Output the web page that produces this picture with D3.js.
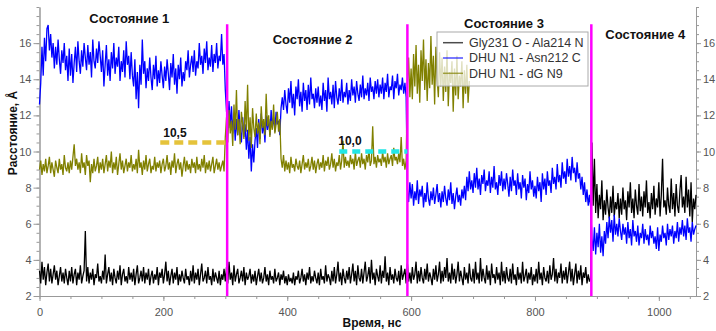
<!DOCTYPE html>
<html>
<head>
<meta charset="utf-8">
<script src="https://cdn.jsdelivr.net/npm/d3@7"></script>
<style>
  body { margin: 0; background: #fff; }
  svg text { font-family: "Liberation Sans", Arial, sans-serif; }
</style>
</head>
<body>
<svg id="chart" width="716" height="331"></svg>
<script>
// [DATA] one sample every STEP ns, starting at 0 ns
const STEP = 2;

// Gly231 O - Ala214 N (black)
const glyAla = [
  3.4,2.7,3.9,2.9,3.6,2.6,3.3,3.8,2.8,3.5,2.7,3.2,3.7,2.9,3.4,2.6,3.1,3.6,2.8,3.3,2.7,3.5,3.0,2.6,3.4,
  2.8,3.6,2.7,3.2,3.5,2.6,3.3,2.9,3.7,2.7,3.1,3.4,5.6,2.8,3.6,2.7,3.3,2.9,3.5,2.6,3.2,3.0,3.8,2.8,3.1,
  2.7,3.4,2.9,4.3,2.7,3.2,3.6,2.8,3.3,2.6,3.5,3.0,2.7,3.4,2.9,3.7,2.6,3.2,3.5,2.8,3.1,2.7,3.6,2.9,3.3,
  2.8,3.5,2.6,3.2,3.7,2.7,3.0,3.4,2.8,3.6,2.7,3.3,2.9,3.5,2.6,3.1,3.4,2.7,3.2,2.9,3.6,2.6,3.3,3.0,3.5,
  2.7,3.2,3.9,2.8,3.4,2.6,3.1,3.5,2.7,3.3,2.9,3.6,2.6,3.2,2.8,3.4,3.0,2.7,3.5,2.9,3.1,2.6,3.4,2.8,3.7,
  2.7,3.3,2.9,3.5,2.6,3.2,3.8,2.8,3.0,3.4,2.7,3.6,2.9,3.1,2.6,3.5,2.8,3.3,3.0,2.7,3.4,2.6,3.2,2.9,3.5,
  2.8,3.6,2.7,3.9,2.9,3.3,2.6,3.7,2.8,3.2,3.5,2.7,3.0,3.4,2.8,3.6,2.6,3.3,2.9,3.1,3.5,2.7,3.2,2.8,3.4,
  2.6,3.1,3.5,2.8,3.3,2.7,3.0,3.6,2.8,3.2,2.6,3.4,2.9,3.1,2.7,3.5,2.8,3.0,3.3,2.6,3.2,2.9,3.4,2.7,3.1,
  2.6,3.2,2.8,3.0,2.7,3.3,2.6,3.1,2.9,3.4,2.7,3.0,3.5,2.8,3.2,2.6,3.3,2.9,3.6,2.7,3.1,2.8,3.4,3.0,2.7,
  3.3,2.6,3.5,2.9,3.1,2.7,3.7,2.8,3.2,3.0,2.6,3.4,2.8,3.6,2.7,3.2,3.9,2.8,3.3,2.6,3.5,3.0,2.7,3.4,2.9,
  3.6,2.7,3.2,3.8,2.8,3.4,2.6,3.7,3.0,2.8,3.5,2.7,3.3,3.9,2.8,3.1,3.6,2.7,4.0,2.9,3.3,2.6,3.5,3.1,2.8,
  3.7,2.7,3.4,3.0,4.2,2.8,3.3,2.6,3.6,2.9,3.2,2.7,3.5,3.0,2.8,3.4,2.6,3.7,2.9,3.2,3.5,2.7,3.8,2.8,3.3,
  2.7,3.6,2.9,3.2,3.9,2.7,3.4,2.8,3.6,3.0,2.7,3.5,2.9,3.8,2.8,3.3,3.0,2.6,3.5,2.9,3.7,2.8,3.2,3.9,2.7,
  3.4,2.8,3.6,3.0,4.1,2.8,3.3,2.7,3.8,2.9,3.5,2.7,3.2,3.9,2.8,3.4,3.0,2.6,3.6,2.9,3.3,2.7,3.8,3.0,2.8,
  3.5,2.7,3.9,2.9,3.3,2.7,4.1,2.8,3.5,3.0,2.7,3.7,2.9,3.4,2.6,3.8,3.0,3.2,2.7,3.6,2.9,3.3,2.6,3.9,2.8,
  3.4,2.7,3.6,3.0,2.8,3.5,2.7,3.8,2.9,3.2,2.6,3.6,2.9,3.3,2.7,3.9,2.8,3.1,3.5,2.7,3.3,2.9,3.6,2.6,3.2,
  2.8,3.5,2.7,3.9,2.9,3.3,2.6,3.6,3.0,2.8,3.4,2.7,3.7,2.9,3.2,4.1,2.8,3.5,2.7,3.3,3.0,3.8,2.7,3.4,2.9,
  3.6,2.7,3.3,3.9,2.8,3.5,2.6,3.2,3.8,2.7,3.4,2.9,3.7,2.6,3.3,3.0,3.6,2.7,3.2,2.8,
  3.0,10.5,7.0,9.6,6.6,8.2,6.3,7.6,6.8,8.4,6.2,7.3,6.5,7.9,6.9,6.3,7.5,6.6,8.1,6.4,7.2,6.8,7.7,6.3,7.4,
  6.5,8.0,6.8,7.3,6.2,7.8,6.9,8.3,6.6,7.4,6.3,7.9,7.0,6.5,8.2,6.7,7.5,6.4,7.8,6.9,8.4,6.6,7.2,6.3,7.7,
  6.8,8.1,6.5,7.4,6.9,8.3,6.4,7.6,9.6,6.9,7.3,6.5,8.0,7.0,6.6,8.5,6.8,7.7,6.4,8.2,7.0,6.6,7.8,8.7,6.9,
  7.5,6.6,8.6,6.9,7.9,6.4,8.3,6.1,7.4,6.8,7.6
];

// DHU N1 - Asn212 C (blue)
const dhuAsn = [
  12.6,13.8,15.8,14.2,16.3,15.0,16.8,17.0,15.6,16.5,15.2,16.0,14.6,15.8,14.8,16.2,15.1,14.3,15.6,14.9,16.0,14.5,15.3,13.9,15.7,
  14.2,15.4,13.8,14.9,15.8,14.4,16.1,15.0,14.3,15.6,14.7,16.0,15.2,14.5,15.9,14.8,15.5,14.1,16.2,15.0,14.6,15.7,14.9,16.1,15.3,
  14.4,15.6,13.6,14.8,15.9,14.2,15.1,13.9,15.5,14.6,16.0,14.3,15.2,14.7,15.8,13.9,15.0,14.4,15.6,14.1,16.1,14.8,15.3,14.0,15.5,
  14.2,13.6,15.1,12.9,14.4,12.4,14.8,13.7,16.2,14.3,15.0,13.5,14.6,13.9,15.2,14.1,13.4,14.8,14.0,15.3,13.6,14.5,13.8,15.0,14.2,
  13.5,14.7,13.9,15.1,14.3,13.4,14.9,14.1,15.4,13.7,14.6,13.2,14.8,14.0,15.2,13.6,14.4,13.9,15.0,14.5,15.6,14.1,14.8,15.3,14.4,
  15.6,14.2,15.0,14.6,16.0,14.8,15.3,14.3,15.7,14.9,16.1,14.5,15.2,14.7,15.9,14.4,15.4,14.9,16.0,14.6,15.3,15.0,16.5,14.8,15.4,
  13.4,12.2,11.5,12.8,11.3,12.5,11.0,12.1,10.6,11.8,10.9,12.3,11.2,10.5,11.9,10.8,11.5,10.1,11.2,9.6,10.8,8.9,10.4,9.4,10.6,
  11.3,10.2,11.8,10.7,12.1,11.0,11.6,10.5,12.0,11.2,11.8,10.9,12.3,11.4,11.9,11.1,12.2,11.5,11.7,10.9,12.4,13.0,12.3,13.4,12.6,
  12.1,13.5,12.7,13.9,12.4,13.2,12.0,13.6,12.9,14.0,12.5,13.3,12.2,13.8,12.8,13.4,12.3,13.7,12.6,14.1,12.9,13.2,12.4,13.5,12.7,
  13.6,12.5,13.1,12.3,13.8,12.8,13.4,12.2,14.1,12.9,13.3,12.6,13.7,12.4,13.9,13.0,12.6,13.5,12.8,14.0,12.7,13.3,13.0,13.8,12.6,
  13.4,12.8,14.0,13.1,13.6,12.7,13.9,13.2,12.8,13.7,13.0,14.2,12.9,13.5,13.1,13.8,12.8,14.1,13.3,13.6,12.9,13.9,13.2,14.0,13.0,
  13.7,13.2,14.1,12.9,13.8,13.3,14.3,13.0,13.6,13.4,14.2,12.9,13.9,13.5,14.3,13.1,13.7,13.4,14.1,13.2,13.8,13.0,7.9,7.2,8.3,
  7.4,8.2,7.0,7.8,7.3,8.4,7.1,7.9,7.5,8.1,6.9,7.7,7.2,8.3,7.4,7.0,7.8,7.3,8.0,7.1,7.6,8.2,7.2,7.7,6.9,
  7.8,7.2,8.1,7.4,7.0,7.9,7.3,8.3,7.1,7.7,6.8,7.5,8.0,7.2,7.6,7.0,7.9,7.4,8.1,7.3,8.6,7.8,8.9,7.9,8.4,
  7.7,8.8,8.0,9.1,7.9,8.5,7.6,8.7,8.2,9.0,7.8,8.4,8.1,8.9,7.7,8.6,8.0,9.2,7.9,8.3,7.6,8.7,8.1,8.9,7.8,
  8.5,7.9,8.8,8.2,7.5,8.6,7.8,9.0,8.1,8.4,7.6,8.8,7.9,8.3,7.4,8.7,8.0,8.5,7.3,8.2,7.7,8.9,7.9,8.4,7.5,
  8.1,7.4,8.6,7.8,8.3,7.2,8.8,7.9,8.5,7.6,8.9,8.1,8.4,7.7,9.1,8.2,8.6,7.9,9.3,8.3,8.7,8.0,9.4,8.5,8.9,
  8.2,9.6,8.6,9.2,8.4,9.7,8.8,9.1,8.3,9.4,8.5,8.8,7.9,8.6,7.6,8.3,7.2,7.9,7.0,7.6,
  6.9,5.2,4.5,5.8,4.3,5.5,4.7,6.0,4.4,5.3,4.2,5.6,4.9,6.1,5.2,6.4,5.5,6.2,5.0,6.5,5.4,6.0,5.3,6.3,5.6,
  5.1,6.0,5.4,5.8,4.9,6.1,5.2,5.7,4.8,6.2,5.3,5.6,5.0,5.9,4.8,5.5,5.2,6.0,4.9,5.7,5.1,5.4,4.8,5.9,5.2,
  5.6,4.9,5.3,4.6,5.8,4.5,5.4,5.0,5.9,5.2,5.5,4.8,6.0,5.1,5.7,5.3,5.9,4.9,5.6,5.2,6.1,5.0,5.8,5.4,6.2,
  5.3,5.9,5.1,6.3,5.5,5.8,5.0,6.1,5.4,5.7,5.9
];

// DHU N1 - dG N9 (olive), stops near 694 ns
const dhuDg = [
  9.0,9.5,8.7,9.3,8.9,9.6,8.8,9.2,9.7,8.8,9.4,9.0,8.6,9.5,9.1,8.8,9.6,9.0,9.3,8.7,9.8,9.1,8.9,9.4,8.8,
  9.5,9.0,9.7,10.4,9.2,9.6,9.0,9.4,8.8,9.9,9.1,9.4,8.7,9.8,9.2,9.5,8.3,9.3,8.8,9.6,8.9,9.2,9.7,8.8,9.4,
  9.0,9.6,8.8,9.3,9.8,8.9,9.5,9.1,10.0,8.8,9.4,9.0,9.7,8.7,9.3,9.9,9.0,9.5,8.8,9.2,9.6,8.9,9.4,9.1,9.8,
  8.9,9.3,9.0,9.6,8.8,10.1,9.1,9.4,8.7,9.5,9.0,9.8,8.9,9.3,9.6,8.8,9.2,9.0,9.7,8.9,9.4,9.1,9.5,8.8,9.3,
  9.6,8.9,9.2,9.8,9.0,9.4,8.7,9.5,9.1,9.9,8.8,9.3,9.6,9.0,9.4,8.6,9.2,9.7,8.9,9.5,9.0,9.3,8.8,9.6,9.1,
  9.4,8.8,9.7,9.0,9.3,8.9,9.6,9.1,9.8,8.8,9.4,9.0,9.5,8.9,9.3,9.7,8.8,9.2,9.6,9.0,9.4,8.9,9.2,9.5,8.9,
  10.8,11.9,10.5,12.3,11.0,11.7,10.3,12.6,11.2,13.4,10.9,11.8,10.4,12.2,11.5,10.7,12.8,11.1,13.7,10.6,11.9,10.2,12.4,11.3,10.8,
  12.1,11.0,11.6,10.4,12.5,11.3,11.8,10.9,13.2,11.4,12.0,10.8,11.7,11.2,12.6,11.0,11.5,12.2,11.1,11.8,9.6,9.1,9.8,8.9,9.5,
  9.0,9.4,8.8,9.7,9.1,9.3,8.9,9.6,9.2,9.0,9.5,8.8,9.3,9.8,9.0,9.4,9.1,9.6,8.9,9.2,9.7,9.0,9.5,8.8,9.3,
  9.6,9.0,9.4,9.1,9.8,8.9,9.5,9.2,9.7,9.0,9.3,9.9,9.1,9.6,8.9,9.4,9.2,9.8,9.0,9.5,10.6,9.1,9.7,9.2,9.5,
  9.1,9.8,9.3,9.6,9.0,10.0,9.2,9.5,9.7,9.1,9.9,9.3,9.6,9.0,9.8,9.4,10.1,9.2,9.5,11.4,9.3,9.7,9.1,9.8,9.4,
  9.6,9.2,10.0,9.4,9.7,9.1,9.9,9.3,9.6,9.8,9.2,10.2,9.5,9.7,9.3,9.9,9.4,10.8,9.2,9.6,9.0,9.5,13.8,15.2,13.0,
  14.6,12.9,15.4,13.6,15.9,13.2,14.8,12.7,15.6,13.9,16.2,13.4,15.1,12.8,14.9,13.5,16.4,13.7,15.3,12.6,15.8,14.1,13.0,15.5,13.6,
  15.2,12.8,14.7,13.3,15.6,12.5,14.4,13.8,15.0,12.2,14.6,13.1,15.3,12.9,14.2,13.6,15.0,12.4,14.5,13.2,14.8,12.7,13.9
];

const seriesNames = ['Gly231 O - Ala214 N', 'DHU N1 - Asn212 C', 'DHU N1 - dG N9'];
const stateNames = ['Состояние 1', 'Состояние 2', 'Состояние 3', 'Состояние 4'];
const stateBounds = [303, 594, 891];          // ns
const refValues = [10.5, 10.0];               // Å
const refSpans = [[195, 303], [484, 594]];    // ns
const refLabels = ['10,5', '10,0'];
const yLabelTicks = [2, 4, 6, 8, 10, 12, 14, 16];
const xLabelTicks = [0, 200, 400, 600, 800, 1000];

// [LAYOUT]
const svg = d3.select('#chart');
const x = d3.scaleLinear().domain([0, 1060]).range([39.5, 696]);
const y = d3.scaleLinear().domain([2, 18]).range([296, 7]);
const axisColor = '#999';

const colors = ['#000000', '#0000ff', '#808000'];
const allSeries = [glyAla, dhuAsn, dhuDg];

// axes: minor ticks first, then labelled major ticks
function styleAxis(g) {
  g.selectAll('path, line').attr('stroke', axisColor);
  g.selectAll('text').attr('fill', '#555').style('font-size', '11px');
}

svg.append('g').attr('transform', 'translate(0,296)')
  .call(d3.axisBottom(x).tickValues(d3.range(0, 1061, 50)).tickSize(3).tickSizeOuter(0).tickFormat(''))
  .call(styleAxis);
svg.append('g').attr('transform', 'translate(0,296)')
  .call(d3.axisBottom(x).tickValues(xLabelTicks).tickSize(5).tickPadding(7).tickSizeOuter(0).tickFormat(d3.format('d')))
  .call(styleAxis);

svg.append('g').attr('transform', 'translate(39.5,0)')
  .call(d3.axisLeft(y).tickValues(d3.range(2, 18.01, 0.5)).tickSize(3).tickSizeOuter(0).tickFormat(''))
  .call(styleAxis);
svg.append('g').attr('transform', 'translate(39.5,0)')
  .call(d3.axisLeft(y).tickValues(yLabelTicks).tickSize(6).tickPadding(2).tickSizeOuter(0))
  .call(styleAxis);

svg.append('g').attr('transform', 'translate(696,0)')
  .call(d3.axisRight(y).tickValues(d3.range(2, 18.01, 0.5)).tickSize(3).tickSizeOuter(0).tickFormat(''))
  .call(styleAxis);
svg.append('g').attr('transform', 'translate(696,0)')
  .call(d3.axisRight(y).tickValues(yLabelTicks).tickSize(5).tickPadding(2).tickSizeOuter(0))
  .call(styleAxis);

// series lines
const line = d3.line()
  .x((d, i) => x(i * STEP))
  .y(d => y(d));

allSeries.forEach((s, k) => {
  svg.append('path')
    .datum(s)
    .attr('fill', 'none')
    .attr('stroke', colors[k])
    .attr('stroke-width', 1.3)
    .attr('stroke-linejoin', 'bevel')
    .attr('d', line);
});

// state boundaries
svg.selectAll('.bound')
  .data(stateBounds)
  .enter().append('line')
  .attr('x1', d => x(d)).attr('x2', d => x(d))
  .attr('y1', y(17.05)).attr('y2', y(2))
  .attr('stroke', '#ff00ff')
  .attr('stroke-width', 2.5);

// reference levels
const refColors = ['#e5c33b', '#22e6e6'];
const refDash = ['9,5', '8,5'];
refValues.forEach((v, i) => {
  svg.append('line')
    .attr('x1', x(refSpans[i][0])).attr('x2', x(refSpans[i][1]))
    .attr('y1', y(v)).attr('y2', y(v))
    .attr('stroke', refColors[i])
    .attr('stroke-width', 4.5)
    .attr('stroke-dasharray', refDash[i]);
  svg.append('text')
    .attr('x', x(refSpans[i][0]) + (i == 0 ? 3 : -1))
    .attr('y', y(v) - (i == 0 ? 5 : 6.5))
    .attr('font-weight', 'bold')
    .style('font-size', '12px')
    .attr('fill', '#111')
    .text(refLabels[i]);
});

// state titles (centre in ns, baseline in Å)
const titleAt = [[145, 17.12], [441, 15.97], [750, 16.83], [978, 16.22]];
stateNames.forEach((name, i) => {
  svg.append('text')
    .attr('x', x(titleAt[i][0]))
    .attr('y', y(titleAt[i][1]))
    .attr('text-anchor', 'middle')
    .attr('font-weight', 'bold')
    .style('font-size', '13px')
    .attr('fill', '#111')
    .text(name);
});

// legend
const legend = svg.append('g').attr('transform', 'translate(437,32)');
legend.append('rect')
  .attr('width', 151).attr('height', 54)
  .attr('fill', '#fff').attr('fill-opacity', 0.75)
  .attr('stroke', '#aaa');
seriesNames.forEach((name, i) => {
  const row = legend.append('g').attr('transform', `translate(0,${10.7 + i * 15.3})`);
  row.append('line')
    .attr('x1', 6).attr('x2', 26)
    .attr('stroke', colors[i]).attr('stroke-opacity', 0.7)
    .attr('stroke-width', 1.5);
  row.append('text')
    .attr('x', 32).attr('dy', '0.35em')
    .style('font-size', '12.5px')
    .attr('fill', '#333')
    .text(name);
});

// axis titles
svg.append('text')
  .attr('transform', 'translate(17,133) rotate(-90)')
  .attr('text-anchor', 'middle')
  .attr('font-weight', 'bold')
  .style('font-size', '12px')
  .attr('fill', '#111')
  .text('Расстояние, Å');

svg.append('text')
  .attr('x', 372).attr('y', 327)
  .attr('text-anchor', 'middle')
  .attr('font-weight', 'bold')
  .style('font-size', '12px')
  .attr('fill', '#111')
  .text('Время, нс');
</script>
</body>
</html>
